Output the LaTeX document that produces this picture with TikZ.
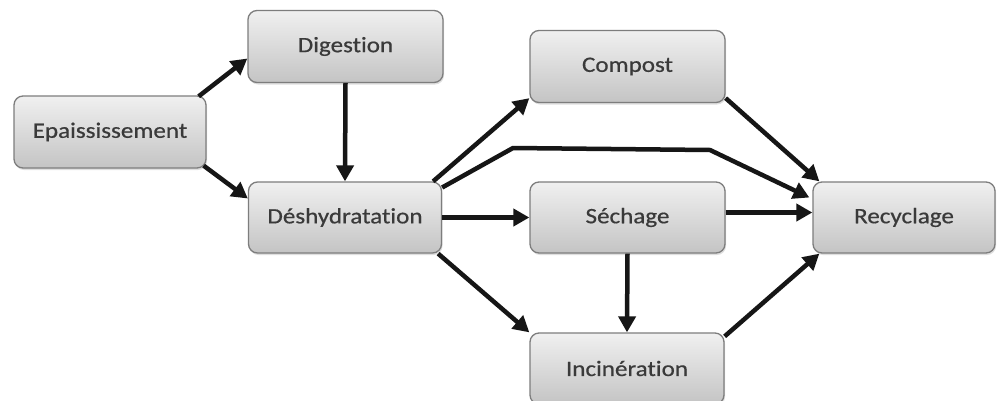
\documentclass[tikz,border=0pt]{standalone}
\usepackage{fontspec}
\setmainfont[FakeStretch=1.14,FakeBold=0.6,RawFeature=-liga]{Carlito}
\usetikzlibrary{arrows.meta,calc,shadows}
\definecolor{boxtop}{RGB}{240,240,240}
\definecolor{boxbot}{RGB}{196,196,196}
\definecolor{boxline}{RGB}{125,125,125}
\definecolor{txt}{RGB}{58,58,58}
\definecolor{arr}{RGB}{22,22,22}
\tikzset{
  procbox/.style={rectangle, rounded corners=9pt, draw=boxline, line width=1.3pt,
    top color=boxtop, bottom color=boxbot, text=txt,
    font=\fontsize{22}{26}\selectfont, inner sep=0pt,
    drop shadow={shadow xshift=1pt, shadow yshift=-2pt, opacity=0.25, fill=gray}},
  flow/.style={draw=arr, line width=4.5pt, -{Triangle[length=16pt,width=17pt]}},
}
\begin{document}
\begin{tikzpicture}[x=1pt,y=-1pt]
\clip (0,0) rectangle (997,400);
\useasboundingbox (0,0) rectangle (997,400);
\fill[white] (0,0) rectangle (997,400);
\node[procbox, minimum width=192pt, minimum height=72pt] (epa) at (110,132) {Epaississement};
\node[procbox, minimum width=195pt, minimum height=72pt] (dig) at (345.5,46.5) {Digestion};
\node[procbox, minimum width=193pt, minimum height=71pt] (des) at (345,217.5) {Déshydratation};
\node[procbox, minimum width=195pt, minimum height=72pt] (com) at (627.5,66.5) {Compost};
\node[procbox, minimum width=195pt, minimum height=71pt] (sec) at (627.5,217.5) {Séchage};
\node[procbox, minimum width=194pt, minimum height=71pt] (inc) at (627,368.5) {Incinération};
\node[procbox, minimum width=182pt, minimum height=71pt] (rec) at (904,217.5) {Recyclage};
\coordinate (b1) at (513,148);
\coordinate (b2) at (710,150);
\draw[flow] ($(epa.north east)+(-8,1)$) -- ($(dig.west)+(0,12)$);
\draw[flow] ($(epa.south east)+(-3,-3)$) -- ($(des.west)+(0,-19)$);
\draw[flow] (dig.south) -- (des.north);
\draw[flow] ($(des.north east)+(-9,0)$) -- ($(com.south west)+(0,-5)$);
\draw[flow, line join=round] ($(des.east)+(0,-30)$) -- (b1) -- (b2) -- ($(rec.west)+(-3,-20)$);
\draw[flow] (des.east) -- (sec.west);
\draw[flow] ($(sec.east)+(0,-5)$) -- ($(rec.west)+(0,-5)$);
\draw[flow] ($(com.south east)+(0,-5)$) -- ($(rec.north west)+(7,0)$);
\draw[flow] (sec.south) -- (inc.north);
\draw[flow] ($(des.south east)+(-4,0)$) -- (inc.north west);
\draw[flow] ($(inc.north east)+(0,4)$) -- ($(rec.south west)+(7,0)$);
\end{tikzpicture}
\end{document}
